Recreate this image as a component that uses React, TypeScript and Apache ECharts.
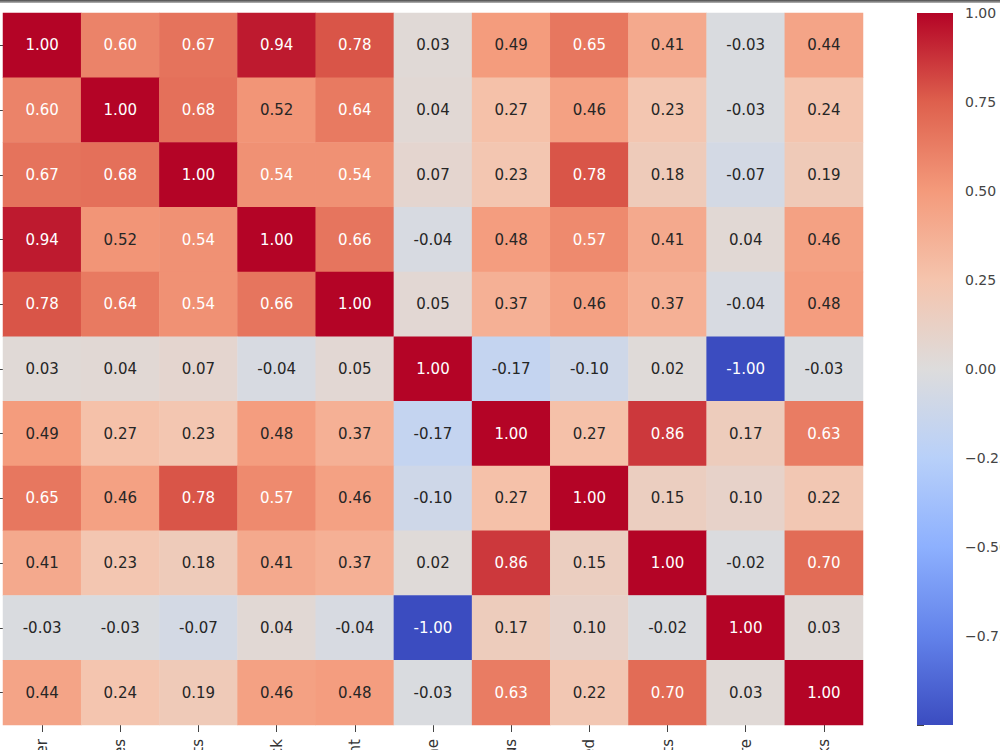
import React, { useEffect, useRef } from "react";
import * as echarts from "echarts";

const columns = [
  "Order_Number",
  "Sales",
  "Profits",
  "Stock",
  "Discount",
  "Type_Online",
  "Bonus",
  "Speed",
  "Visits",
  "Type_Store",
  "Clicks",
];

const row1 = [1.0, 0.6, 0.67, 0.94, 0.78, 0.03, 0.49, 0.65, 0.41, -0.03, 0.44];
const row2 = [0.6, 1.0, 0.68, 0.52, 0.64, 0.04, 0.27, 0.46, 0.23, -0.03, 0.24];
const row3 = [0.67, 0.68, 1.0, 0.54, 0.54, 0.07, 0.23, 0.78, 0.18, -0.07, 0.19];
const row4 = [0.94, 0.52, 0.54, 1.0, 0.66, -0.04, 0.48, 0.57, 0.41, 0.04, 0.46];
const row5 = [0.78, 0.64, 0.54, 0.66, 1.0, 0.05, 0.37, 0.46, 0.37, -0.04, 0.48];
const row6 = [0.03, 0.04, 0.07, -0.04, 0.05, 1.0, -0.17, -0.1, 0.02, -1.0, -0.03];
const row7 = [0.49, 0.27, 0.23, 0.48, 0.37, -0.17, 1.0, 0.27, 0.86, 0.17, 0.63];
const row8 = [0.65, 0.46, 0.78, 0.57, 0.46, -0.1, 0.27, 1.0, 0.15, 0.1, 0.22];
const row9 = [0.41, 0.23, 0.18, 0.41, 0.37, 0.02, 0.86, 0.15, 1.0, -0.02, 0.7];
const row10 = [-0.03, -0.03, -0.07, 0.04, -0.04, -1.0, 0.17, 0.1, -0.02, 1.0, 0.03];
const row11 = [0.44, 0.24, 0.19, 0.46, 0.48, -0.03, 0.63, 0.22, 0.7, 0.03, 1.0];

const rows = [row1, row2, row3, row4, row5, row6, row7, row8, row9, row10, row11];

// matplotlib coolwarm approximation
const coolwarm = [
  [59, 76, 192],
  [98, 130, 234],
  [141, 176, 254],
  [184, 208, 249],
  [221, 220, 220],
  [245, 196, 173],
  [244, 154, 123],
  [222, 96, 77],
  [180, 4, 38],
];

const toHex = (c: number[]) =>
  "#" + c.map((v) => Math.round(v).toString(16).padStart(2, "0")).join("");

function cmap(t: number): number[] {
  const tt = Math.max(0, Math.min(1, t)) * (coolwarm.length - 1);
  const i = Math.min(coolwarm.length - 2, Math.floor(tt));
  const f = tt - i;
  const a = coolwarm[i];
  const b = coolwarm[i + 1];
  return [0, 1, 2].map((k) => a[k] + (b[k] - a[k]) * f);
}

function luminance(c: number[]) {
  const lin = c.map((v) => {
    const s = v / 255;
    return s <= 0.03928 ? s / 12.92 : Math.pow((s + 0.055) / 1.055, 2.4);
  });
  return 0.2126 * lin[0] + 0.7152 * lin[1] + 0.0722 * lin[2];
}

const VMIN = -1;
const VMAX = 1;

const cellFmt = (v: number) => v.toFixed(2);
const cbFmt = (v: number) => (v < 0 ? "\u2212" : "") + Math.abs(v).toFixed(2);

export default function App() {
  const ref = useRef<HTMLDivElement>(null);
  useEffect(() => {
    if (!ref.current) return;
    const chart = echarts.init(ref.current, undefined, { renderer: "svg" });

    const data: any[] = [];
    rows.forEach((r, yi) => {
      r.forEach((v, xi) => {
        const col = cmap((v - VMIN) / (VMAX - VMIN));
        const dark = luminance(col) > 0.41;
        data.push({
          value: [xi, yi, v],
          label: { color: dark ? "#262626" : "#ffffff" },
        });
      });
    });

    const gradStops = coolwarm
      .map((c, i) => ({ offset: 1 - i / (coolwarm.length - 1), color: toHex(c) }))
      .reverse();

    const cbLeft = 917;
    const cbTop = 13;
    const cbW = 36;
    const cbH = 712;

    chart.setOption({
      animation: false,
      backgroundColor: "#ffffff",
      textStyle: { fontFamily: "DejaVu Sans" },
      grid: [
        { left: 3, top: 13, width: 860, height: 712, outerBoundsMode: "none", containLabel: false },
        { left: cbLeft, top: cbTop, width: cbW, height: cbH, outerBoundsMode: "none", containLabel: false },
      ],
      xAxis: [
        {
          type: "category",
          data: columns,
          gridIndex: 0,
          axisLine: { show: false },
          axisTick: { show: true, alignWithLabel: true, length: 7, lineStyle: { color: "#444", width: 1 } },
          axisLabel: {
            rotate: 90,
            fontSize: 15,
            color: "#333",
            margin: 14,
            interval: 0,
            fontFamily: "DejaVu Sans",
          },
          splitLine: { show: false },
        },
        { type: "value", gridIndex: 1, show: false, min: 0, max: 1 },
      ],
      yAxis: [
        {
          type: "category",
          data: columns,
          inverse: true,
          gridIndex: 0,
          axisLine: { show: false },
          axisTick: { show: true, alignWithLabel: true, length: 7, lineStyle: { color: "#444", width: 1 } },
          axisLabel: { show: false },
          splitLine: { show: false },
        },
        {
          type: "value",
          gridIndex: 1,
          position: "right",
          min: VMIN,
          max: VMAX,
          interval: 0.25,
          axisLine: { show: false },
          axisTick: { show: true, length: 7, lineStyle: { color: "#444", width: 1 } },
          splitLine: { show: false },
          axisLabel: {
            show: true,
            showMaxLabel: true,
            showMinLabel: true,
            fontSize: 14,
            color: "#444",
            margin: 12,
            fontFamily: "DejaVu Sans",
            formatter: (v: number) => (v <= VMIN + 1e-9 ? "" : cbFmt(v)),
          },
        },
      ],
      visualMap: {
        show: false,
        type: "continuous",
        min: VMIN,
        max: VMAX,
        dimension: 2,
        seriesIndex: 0,
        inRange: { color: coolwarm.map(toHex) },
      },
      graphic: [
        {
          type: "rect",
          shape: { x: cbLeft, y: cbTop, width: cbW, height: cbH },
          style: { fill: new echarts.graphic.LinearGradient(0, 0, 0, 1, gradStops) },
          z: 1,
        },
        {
          type: "rect",
          shape: { x: 0, y: 0, width: 1000, height: 3 },
          style: {
            fill: new echarts.graphic.LinearGradient(0, 0, 0, 1, [
              { offset: 0, color: "#4a4a4a" },
              { offset: 1, color: "#b8b8b8" },
            ]),
          },
          z: 10,
        },
      ],
      series: [
        {
          type: "heatmap",
          xAxisIndex: 0,
          yAxisIndex: 0,
          data,
          label: {
            show: true,
            fontSize: 15,
            fontFamily: "DejaVu Sans",
            formatter: (p: any) => cellFmt(p.value[2]),
          },
          itemStyle: { borderWidth: 0 },
          emphasis: { disabled: true },
        },
        {
          type: "scatter",
          xAxisIndex: 1,
          yAxisIndex: 1,
          data: [],
        },
      ],
    });
    return () => chart.dispose();
  }, []);
  return (
    <div
      ref={ref}
      style={{ position: "fixed", left: 0, top: 0, width: 1000, height: 750 }}
    />
  );
}
